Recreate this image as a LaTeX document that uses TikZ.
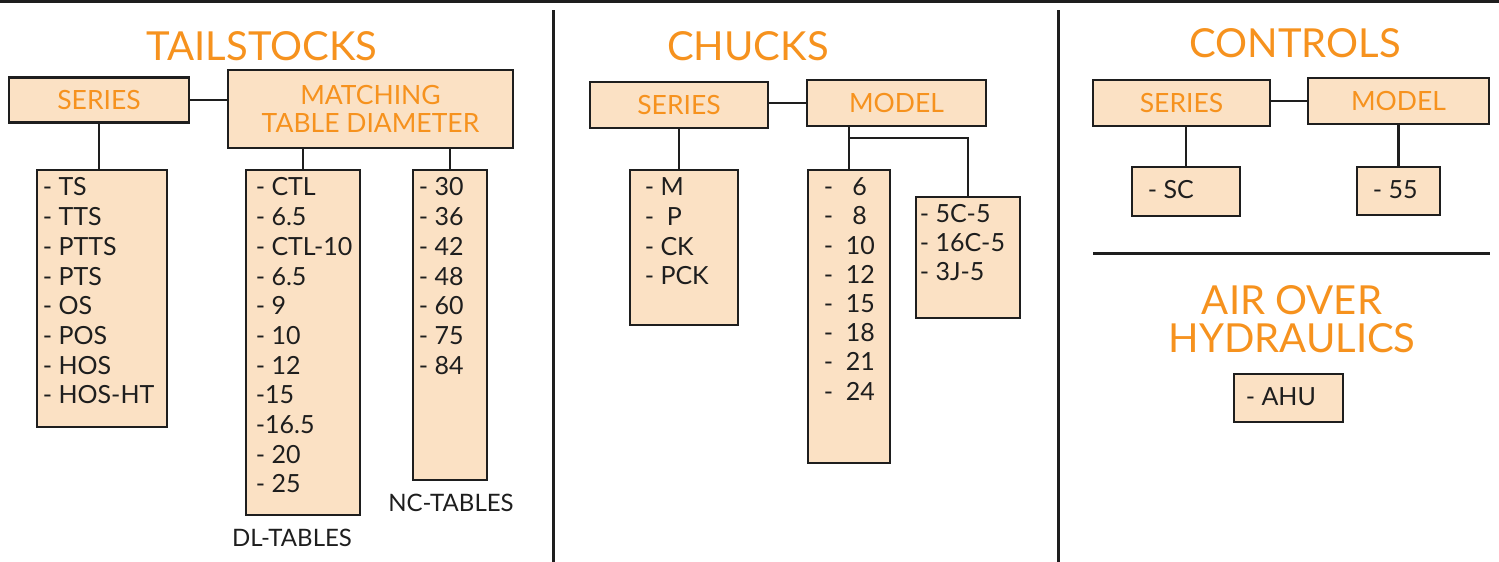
\documentclass[tikz,border=0pt]{standalone}
\usepackage{fontspec}
\setmainfont{Lato}
\usetikzlibrary{positioning}
\definecolor{peach}{RGB}{251,225,196}
\definecolor{tangerine}{RGB}{246,146,30}
\definecolor{ink}{RGB}{30,30,30}

\begin{document}
\begin{tikzpicture}[x=1pt,y=-1pt,
	ttl/.style={text=tangerine, font=\fontsize{40}{38}\selectfont, align=center, inner sep=0},
	hdrbox/.style={draw=ink, line width=2.8pt, fill=peach, text=tangerine, font=\fontsize{26.5}{28}\selectfont, align=center, inner sep=0},
	lstbox/.style={draw=ink, line width=2.8pt, fill=peach, inner sep=0},
	lsttext/.style={text=ink, font=\fontsize{25}{29.7}\selectfont, align=left, inner sep=0, anchor=north west},
	tag/.style={text=ink, font=\fontsize{24}{26}\selectfont, inner sep=0},
	wire/.style={draw=ink, line width=2.5pt},
	divider/.style={draw=ink, line width=3pt}]
	\useasboundingbox (0,0) rectangle (1499,562);
	% Frame %
	\draw [divider] (0,1.5) -- (1499,1.5);
	\draw [divider] (553,10) -- (553,562);
	\draw [divider] (1058,10) -- (1058,562);
	\draw [divider] (1093,253) -- (1490,253);

	% Tailstocks %
	\node [ttl] (tstitle) at (262,46) {TAILSTOCKS};
	\node [hdrbox, minimum width=180, minimum height=45] (tsser) at (99,100) {SERIES};
	\node [hdrbox, minimum width=285, minimum height=78] (tsmat) at (370.5,109) {MATCHING\\TABLE DIAMETER};
	\node [lstbox, minimum width=130, minimum height=257] (tslist) at (102,298.5) {};
	\node [lstbox, minimum width=114, minimum height=345] (dllist) at (303,342.5) {};
	\node [lstbox, minimum width=74, minimum height=310] (nclist) at (450,325) {};
	\node [lsttext] (tsitems) at ([xshift=7,yshift=-9]tslist.north west) {- TS\\- TTS\\- PTTS\\- PTS\\- OS\\- POS\\- HOS\\- HOS-HT};
	\node [lsttext] (dlitems) at ([xshift=11,yshift=-9]dllist.north west) {- CTL\\- 6.5\\- CTL-10\\- 6.5\\- 9\\- 10\\- 12\\-15\\-16.5\\- 20\\- 25};
	\node [lsttext] (ncitems) at ([xshift=7,yshift=-9]nclist.north west) {- 30\\- 36\\- 42\\- 48\\- 60\\- 75\\- 84};
	\node [tag] (dltag) at (292,538) {DL-TABLES};
	\node [tag] (nctag) at (451,503) {NC-TABLES};
	\draw [wire] (tsser.east) -- (tsser.east -| tsmat.west);
	\draw [wire] (tsser.south) -- (tsser.south |- tslist.north);
	\draw [wire] (dllist.north) -- (dllist.north |- tsmat.south);
	\draw [wire] (nclist.north) -- (nclist.north |- tsmat.south);

	% Chucks %
	\node [ttl] (chtitle) at (748,46) {CHUCKS};
	\node [hdrbox, minimum width=178, minimum height=46] (chser) at (679,105) {SERIES};
	\node [hdrbox, minimum width=179, minimum height=46] (chmod) at (896.5,103) {MODEL};
	\node [lstbox, minimum width=108, minimum height=155] (chlist) at (684,247.5) {};
	\node [lstbox, minimum width=82, minimum height=293] (chnum) at (849,316.5) {};
	\node [lstbox, minimum width=104, minimum height=121] (chcol) at (968,257.5) {};
	\node [lsttext] (chitems) at ([xshift=16,yshift=-9]chlist.north west) {- M\\- \ P\\- CK\\- PCK};
	\node [lsttext, font=\fontsize{25}{29.2}\selectfont] (numitems) at ([xshift=17,yshift=-9]chnum.north west) {- \ \ 6\\- \ \ 8\\- \ 10\\- \ 12\\- \ 15\\- \ 18\\- \ 21\\- \ 24};
	\node [lsttext, font=\fontsize{25}{28.7}\selectfont] (colitems) at ([xshift=5,yshift=-9]chcol.north west) {- 5C-5\\- 16C-5\\- 3J-5};
	\coordinate (chfork) at (849,138);
	\draw [wire] (chser.east |- chmod.west) -- (chmod.west);
	\draw [wire] (chser.south) -- (chser.south |- chlist.north);
	\draw [wire] (chnum.north) -- (chnum.north |- chmod.south);
	\draw [wire] (chfork) -| (chcol.north);

	% Controls %
	\node [ttl] (cotitle) at (1295,43) {CONTROLS};
	\node [hdrbox, minimum width=177, minimum height=46] (coser) at (1181.5,103) {SERIES};
	\node [hdrbox, minimum width=181, minimum height=46] (comod) at (1398.5,101) {MODEL};
	\node [lstbox, minimum width=108, minimum height=49] (cosc) at (1186,191.5) {};
	\node [lstbox, minimum width=83, minimum height=48] (co55) at (1398.5,191) {};
	\node [lsttext] (scitems) at ([xshift=17,yshift=-15]cosc.north west) {- SC};
	\node [lsttext] (fiveitems) at ([xshift=17,yshift=-15]co55.north west) {- 55};
	\draw [wire] (coser.east |- comod.west) -- (comod.west);
	\draw [wire] (cosc.north) -- (cosc.north |- coser.south);
	\draw [wire] (co55.north) -- (co55.north |- comod.south);

	% Air over hydraulics %
	\node [ttl, font=\fontsize{40}{38}\selectfont] (airtitle) at (1292,319) {AIR OVER\\HYDRAULICS};
	\node [lstbox, minimum width=109, minimum height=48] (ahu) at (1288.5,398) {};
	\node [lsttext] (ahuitems) at ([xshift=13,yshift=-15]ahu.north west) {- AHU};
\end{tikzpicture}
\end{document}
